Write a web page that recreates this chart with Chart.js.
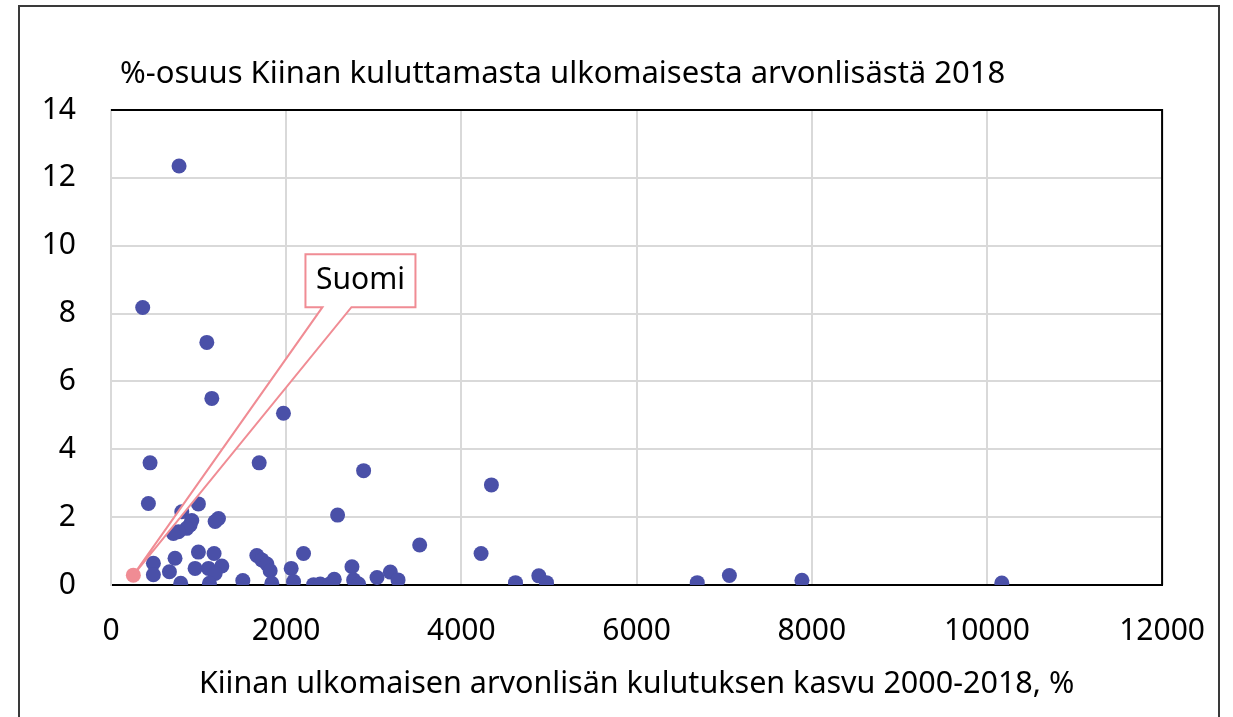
<!DOCTYPE html>
<html lang="fi">
<head>
<meta charset="UTF-8">
<title>Kiinan ulkomainen arvonlisä</title>
<script src="https://cdn.jsdelivr.net/npm/chart.js"></script>
<style>
    html, body { margin: 0; padding: 0; background: #fff; }
    #wrap { width: 1233px; height: 717px; position: relative; }
</style>
</head>
<body>
<div id="wrap">
    <canvas id="graph_kiina"></canvas>
</div>

<script>
    // kasvu 2000-2018, % (x) ja osuus %, (y)
    const kasvu = [
        777, 362, 1094, 1151, 1969, 446, 1692, 2884, 4343, 427,
        998, 808, 2587, 1227, 1189, 922, 903, 865, 770, 712,
        3524, 998, 1177, 2198, 4225, 1665, 1722, 1780, 731, 484,
        1265, 960, 1113, 2057, 2751, 667, 484, 1189, 1817, 3189,
        796, 1124, 1505, 1836, 2084, 2313, 2389, 2503, 2549, 2770,
        2827, 3037, 3277, 4618, 4884, 4972, 6693, 7060, 7888, 10170
    ];
    const osuus = [
        12.35, 8.18, 7.15, 5.50, 5.06, 3.60, 3.60, 3.37, 2.95, 2.40,
        2.39, 2.16, 2.06, 1.96, 1.87, 1.90, 1.77, 1.67, 1.57, 1.52,
        1.18, 0.97, 0.93, 0.93, 0.93, 0.87, 0.74, 0.62, 0.79, 0.64,
        0.56, 0.49, 0.49, 0.49, 0.54, 0.39, 0.30, 0.34, 0.42, 0.38,
        0.05, 0.05, 0.13, 0.05, 0.10, 0.01, 0.03, 0.04, 0.17, 0.15,
        0.03, 0.22, 0.15, 0.07, 0.27, 0.07, 0.07, 0.28, 0.14, 0.06
    ];
    const suomiKasvu = [255];
    const suomiOsuus = [0.29];

    const xTicks = [0, 2000, 4000, 6000, 8000, 10000, 12000];
    const yTicks = [0, 2, 4, 6, 8, 10, 12, 14];

    const otsikko = '%-osuus Kiinan kuluttamasta ulkomaisesta arvonlisästä 2018';
    const xOtsikko = 'Kiinan ulkomaisen arvonlisän kulutuksen kasvu 2000-2018, %';

    const fontti = '"Noto Sans", "Open Sans", sans-serif';
    const sininen = '#4a50a8';
    const pinkki = '#f08c94';

    // kehys, otsikko, reunat ja Suomi-selite
    const koristeet = {
        id: 'koristeet',
        afterDatasetsDraw(chart) {
            const c = chart.ctx;
            const a = chart.chartArea;
            const sx = chart.scales.x, sy = chart.scales.y;
            c.save();

            // musta ylä- ja oikea reuna
            c.strokeStyle = '#000';
            c.lineWidth = 2;
            c.beginPath();
            c.moveTo(a.left, a.top);
            c.lineTo(a.right, a.top);
            c.lineTo(a.right, a.bottom);
            c.stroke();

            // selite "Suomi"
            const px = sx.getPixelForValue(suomiKasvu[0]);
            const py = sy.getPixelForValue(suomiOsuus[0]);
            const bx = sx.getPixelForValue(2220), by = sy.getPixelForValue(9.75);
            const bw = 110, bh = 53;
            c.fillStyle = '#fff';
            c.strokeStyle = pinkki;
            c.lineWidth = 2;
            c.beginPath();
            c.moveTo(bx, by);
            c.lineTo(bx + bw, by);
            c.lineTo(bx + bw, by + bh);
            c.lineTo(bx + 46, by + bh);
            c.lineTo(px, py);
            c.lineTo(bx + 17, by + bh);
            c.lineTo(bx, by + bh);
            c.closePath();
            c.fill();
            c.stroke();

            c.fillStyle = '#000';
            c.font = '30px ' + fontti;
            c.textAlign = 'center';
            c.textBaseline = 'middle';
            c.fillText('Suomi', bx + bw / 2, by + bh / 2);

            // Suomen piste päälle
            c.fillStyle = pinkki;
            c.beginPath();
            c.arc(px, py, 7.5, 0, Math.PI * 2);
            c.fill();
            c.restore();
        },
        afterDraw(chart) {
            const c = chart.ctx;
            c.save();
            c.strokeStyle = '#3a3a3a';
            c.lineWidth = 2;
            c.beginPath();
            c.moveTo(19, 730);
            c.lineTo(19, 6);
            c.lineTo(1219, 6);
            c.lineTo(1219, 730);
            c.stroke();

            c.fillStyle = '#000';
            c.font = '31px ' + fontti;
            c.textAlign = 'left';
            c.textBaseline = 'middle';
            c.fillText(otsikko, 120, 74);
            c.restore();
        }
    };

    const ctx = document.getElementById('graph_kiina');

    new Chart(ctx, {
        type: 'scatter',
        data: {
            datasets: [{
                label: 'Maat',
                data: kasvu.map((x, i) => ({ x: x, y: osuus[i] })),
                backgroundColor: sininen,
                borderWidth: 0,
                pointRadius: 7.5,
                pointHoverRadius: 7.5
            }]
        },
        options: {
            responsive: true,
            maintainAspectRatio: false,
            animation: false,
            layout: { padding: { top: 110, right: 69, left: 0, bottom: 0 } },
            plugins: {
                legend: { display: false },
                tooltip: { enabled: false }
            },
            scales: {
                x: {
                    type: 'linear',
                    min: 0,
                    max: 12000,
                    afterBuildTicks: (s) => { s.ticks = xTicks.map(v => ({ value: v })); },
                    afterFit: (s) => { s.height = 132; },
                    ticks: {
                        color: '#000',
                        font: { family: fontti, size: 30 },
                        padding: 28,
                        maxRotation: 0,
                        callback: (v) => String(v)
                    },
                    grid: { color: '#d9d9d9', lineWidth: 2, drawTicks: false },
                    border: { color: '#000', width: 2 },
                    title: {
                        display: true,
                        text: xOtsikko,
                        color: '#000',
                        font: { family: fontti, size: 30.5 },
                        padding: { top: 0, bottom: 14 }
                    }
                },
                y: {
                    type: 'linear',
                    min: 0,
                    max: 14,
                    afterBuildTicks: (s) => { s.ticks = yTicks.map(v => ({ value: v })); },
                    afterFit: (s) => { s.width = 111; },
                    ticks: {
                        color: '#000',
                        font: { family: fontti, size: 30 },
                        padding: 35,
                        callback: (v) => String(v)
                    },
                    grid: { color: '#d9d9d9', lineWidth: 2, drawTicks: false },
                    border: { color: '#d9d9d9', width: 2 }
                }
            }
        },
        plugins: [koristeet]
    });
</script>
</body>
</html>
